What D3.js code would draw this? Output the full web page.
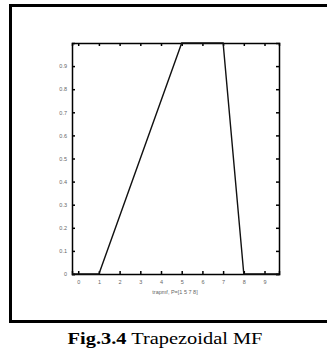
<!DOCTYPE html>
<html>
<head>
<meta charset="utf-8">
<script src="https://cdnjs.cloudflare.com/ajax/libs/d3/7.8.5/d3.min.js"></script>
<style>
body { margin: 0; background: #fff; }
svg { display: block; }
.axis path, .axis line { stroke: #000; stroke-width: 1.5; }
.axis text { font: 5.5px Arial; fill: #666; }
</style>
</head>
<body>
<svg width="327" height="352"></svg>
<script>
// trapmf, P=[1 5 7 8]
var xVals = [-0.3, 1, 5, 7, 8, 9.7];
var yVals = [0, 0, 1, 1, 0, 0];
var xTicks = [0, 1, 2, 3, 4, 5, 6, 7, 8, 9];
var yTicks = [0, 0.1, 0.2, 0.3, 0.4, 0.5, 0.6, 0.7, 0.8, 0.9];
var xLabel = "trapmf, P=[1 5 7 8]";

var svg = d3.select("svg");

// outer frame (right side runs off the picture)
svg.append("rect")
  .attr("x", 10.5).attr("y", 5.5)
  .attr("width", 340).attr("height", 316)
  .attr("fill", "none")
  .attr("stroke", "#000")
  .attr("stroke-width", 3);

var x = d3.scaleLinear().domain([-0.3, 9.7]).range([72, 279]);
var y = d3.scaleLinear().domain([0, 1]).range([274, 43]);

// axes with inward ticks
svg.append("g").attr("class", "axis")
  .attr("transform", "translate(0,274)")
  .call(d3.axisBottom(x).tickValues(xTicks).tickSize(-3).tickPadding(6).tickFormat(d3.format("d")));
svg.append("g").attr("class", "axis")
  .attr("transform", "translate(0,43)")
  .call(d3.axisTop(x).tickValues(xTicks).tickSize(-3).tickFormat(""));
svg.append("g").attr("class", "axis")
  .attr("transform", "translate(72,0)")
  .call(d3.axisLeft(y).tickValues(yTicks).tickSize(-3).tickPadding(5).tickFormat(function(d) { return d === 0 ? "0" : d3.format(".1f")(d); }));
svg.append("g").attr("class", "axis")
  .attr("transform", "translate(279,0)")
  .call(d3.axisRight(y).tickValues(yTicks).tickSize(-3).tickFormat(""));

// membership function
var line = d3.line()
  .x(function(d, i) { return x(xVals[i]); })
  .y(function(d) { return y(d); });
svg.append("path")
  .datum(yVals)
  .attr("d", line)
  .attr("fill", "none")
  .attr("stroke", "#111")
  .attr("stroke-width", 1.4);

// x axis label
svg.append("text")
  .attr("x", 175).attr("y", 294)
  .attr("text-anchor", "middle")
  .style("font", "5.5px Arial")
  .attr("fill", "#666")
  .text(xLabel);

// caption (source image is slightly stretched sideways)
var cap = svg.append("text")
  .attr("transform", "translate(165,344) scale(1.2,1)")
  .attr("text-anchor", "middle")
  .style("font", "17px 'Liberation Serif', 'Times New Roman', serif");
cap.append("tspan").attr("font-weight", "bold").text("Fig.3.4");
cap.append("tspan").text(" Trapezoidal MF");
</script>
</body>
</html>
